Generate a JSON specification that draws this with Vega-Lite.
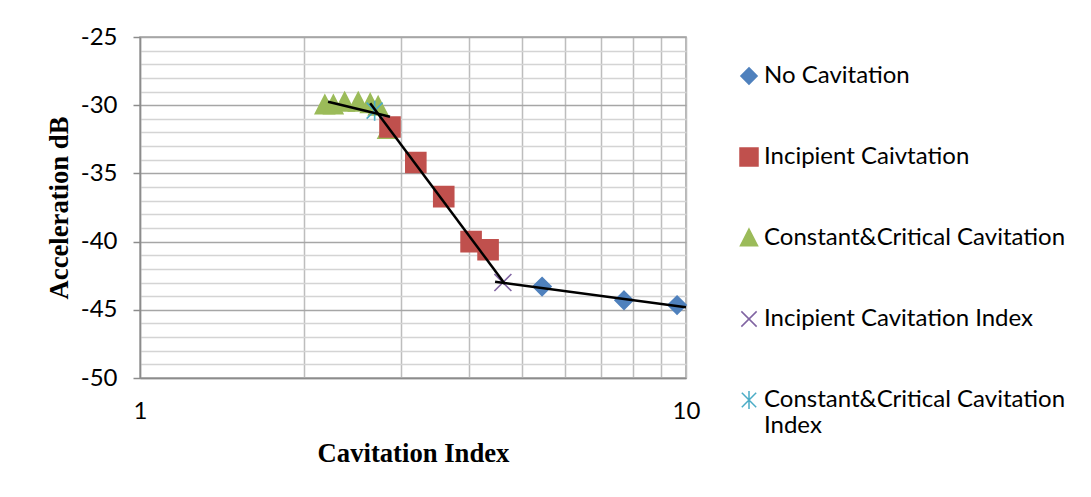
{
  "$schema": "https://vega.github.io/schema/vega-lite/v6.json",
  "width": 546,
  "height": 341,
  "autosize": {"type": "none"},
  "padding": {"left": 140, "top": 37, "right": 405, "bottom": 119},
  "background": "white",
  "config": {
    "view": {"stroke": "#a0a0a0", "strokeWidth": 1.5},
    "font": "Lato",
    "axis": {
      "labelFont": "Lato",
      "labelFontSize": 24,
      "labelColor": "black",
      "titleFont": "Liberation Serif",
      "titleFontWeight": "bold",
      "titleFontSize": 26.67,
      "titleColor": "black",
      "domainColor": "#8c8c8c",
      "domainWidth": 1.5,
      "tickColor": "#8c8c8c",
      "tickWidth": 1.5
    },
    "legend": {
      "labelFont": "Lato",
      "labelFontSize": 24,
      "labelColor": "black",
      "labelLimit": 400,
      "symbolStrokeWidth": 1.5
    }
  },
  "datasets": {
    "points": [
      {"series": "Constant&Critical Cavitation", "index": 2.84, "accel": -31.8},
      {"series": "Constant&Critical Cavitation", "index": 2.18, "accel": -30.0},
      {"series": "Constant&Critical Cavitation", "index": 2.26, "accel": -30.0},
      {"series": "Constant&Critical Cavitation", "index": 2.37, "accel": -29.8},
      {"series": "Constant&Critical Cavitation", "index": 2.51, "accel": -29.8},
      {"series": "Constant&Critical Cavitation", "index": 2.64, "accel": -29.9},
      {"series": "Constant&Critical Cavitation", "index": 2.73, "accel": -30.1},
      {"series": "Incipient Caivtation", "index": 2.87, "accel": -31.6},
      {"series": "Incipient Caivtation", "index": 3.2, "accel": -34.2},
      {"series": "Incipient Caivtation", "index": 3.6, "accel": -36.7},
      {"series": "Incipient Caivtation", "index": 4.04, "accel": -40.0},
      {"series": "Incipient Caivtation", "index": 4.34, "accel": -40.6},
      {"series": "No Cavitation", "index": 5.45, "accel": -43.3},
      {"series": "No Cavitation", "index": 7.7, "accel": -44.3},
      {"series": "No Cavitation", "index": 9.63, "accel": -44.65},
      {"series": "Incipient Cavitation Index", "index": 4.62, "accel": -43.0},
      {"series": "Constant&Critical Cavitation Index", "index": 2.69, "accel": -30.4}
    ],
    "fits": [
      {"segment": "critical", "index": 2.21, "accel": -29.75},
      {"segment": "critical", "index": 2.87, "accel": -30.85},
      {"segment": "incipient", "index": 2.64, "accel": -29.85},
      {"segment": "incipient", "index": 4.66, "accel": -43.1},
      {"segment": "none", "index": 4.47, "accel": -42.95},
      {"segment": "none", "index": 10, "accel": -44.82}
    ]
  },
  "resolve": {"axis": {"y": "independent"}},
  "layer": [
    {
      "data": {"name": "fits"},
      "mark": {"type": "rule", "opacity": 0},
      "encoding": {
        "x": {"field": "index", "type": "quantitative", "scale": {"type": "log", "domain": [1, 10]}},
        "y": {
          "field": "accel",
          "type": "quantitative",
          "scale": {"domain": [-50, -25]},
          "axis": {
            "orient": "right",
            "values": [-49, -48, -47, -46, -44, -43, -42, -41, -39, -38, -37, -36, -34, -33, -32, -31, -29, -28, -27, -26],
            "grid": true,
            "gridColor": "#d4d4d4",
            "gridWidth": 1.5,
            "labels": false,
            "ticks": false,
            "domain": false,
            "title": null
          }
        }
      }
    },
    {
      "data": {"name": "points"},
      "mark": {"type": "point", "filled": false, "strokeWidth": 1.6, "opacity": 1},
      "encoding": {
        "x": {
          "field": "index",
          "type": "quantitative",
          "scale": {"type": "log", "domain": [1, 10]},
          "axis": {
            "values": [1, 2, 3, 4, 5, 6, 7, 8, 9, 10],
            "labelExpr": "datum.value == 1 || datum.value == 10 ? toString(datum.value) : ''",
            "grid": true,
            "gridColor": "#bdbdbd",
            "gridWidth": 1.5,
            "ticks": false,
            "labelPadding": 21,
            "labelFlush": false,
            "title": "Cavitation Index",
            "titlePadding": 17
          }
        },
        "y": {
          "field": "accel",
          "type": "quantitative",
          "scale": {"domain": [-50, -25]},
          "axis": {
            "values": [-50, -45, -40, -35, -30, -25],
            "labelExpr": "toString(datum.value)",
            "grid": true,
            "gridColor": "#a6a6a6",
            "gridWidth": 1.5,
            "tickSize": 7,
            "labelPadding": 16,
            "title": "Acceleration  dB",
            "titlePadding": 7
          }
        },
        "shape": {
          "field": "series",
          "type": "nominal",
          "scale": {
            "domain": ["No Cavitation", "Incipient Caivtation", "Constant&Critical Cavitation", "Incipient Cavitation Index", "Constant&Critical Cavitation Index"],
            "range": [
              "M 0 -0.9 L 0.9 0 L 0 0.9 L -0.9 0 Z",
              "M -1 -1 L 1 -1 L 1 1 L -1 1 Z",
              "M 0 -1 L 0.95 0.85 L -0.95 0.85 Z",
              "M -0.85 -0.85 L 0.85 0.85 M -0.85 0.85 L 0.85 -0.85",
              "M -0.8 -0.8 L 0.8 0.8 M -0.8 0.8 L 0.8 -0.8 M 0 -1 L 0 1"
            ]
          },
          "legend": {
            "title": null,
            "orient": "none",
            "legendX": 597,
            "legendY": 27,
            "symbolSize": 324,
            "rowPadding": 57,
            "labelOffset": 3,
            "labelExpr": "datum.label == 'Constant&Critical Cavitation Index' ? ['Constant&Critical Cavitation', 'Index'] : datum.label",
            "encoding": {"labels": {"enter": {"lineHeight": {"value": 33}}, "update": {"lineHeight": {"value": 33}}}}
          }
        },
        "fill": {
          "field": "series",
          "type": "nominal",
          "scale": {
            "domain": ["No Cavitation", "Incipient Caivtation", "Constant&Critical Cavitation", "Incipient Cavitation Index", "Constant&Critical Cavitation Index"],
            "range": ["#4f81bd", "#c0504d", "#9bbb59", "#8064a2", "#4bacc6"]
          },
          "legend": null
        },
        "stroke": {
          "field": "series",
          "type": "nominal",
          "scale": {
            "domain": ["No Cavitation", "Incipient Caivtation", "Constant&Critical Cavitation", "Incipient Cavitation Index", "Constant&Critical Cavitation Index"],
            "range": ["#4f81bd", "#c0504d", "#9bbb59", "#8064a2", "#4bacc6"]
          },
          "legend": null
        },
        "size": {"value": 400}
      }
    },
    {
      "data": {"name": "fits"},
      "mark": {"type": "line", "color": "black", "strokeWidth": 2.5},
      "encoding": {
        "x": {"field": "index", "type": "quantitative", "scale": {"type": "log", "domain": [1, 10]}},
        "y": {"field": "accel", "type": "quantitative", "scale": {"domain": [-50, -25]}, "axis": null},
        "detail": {"field": "segment", "type": "nominal"}
      }
    }
  ]
}
